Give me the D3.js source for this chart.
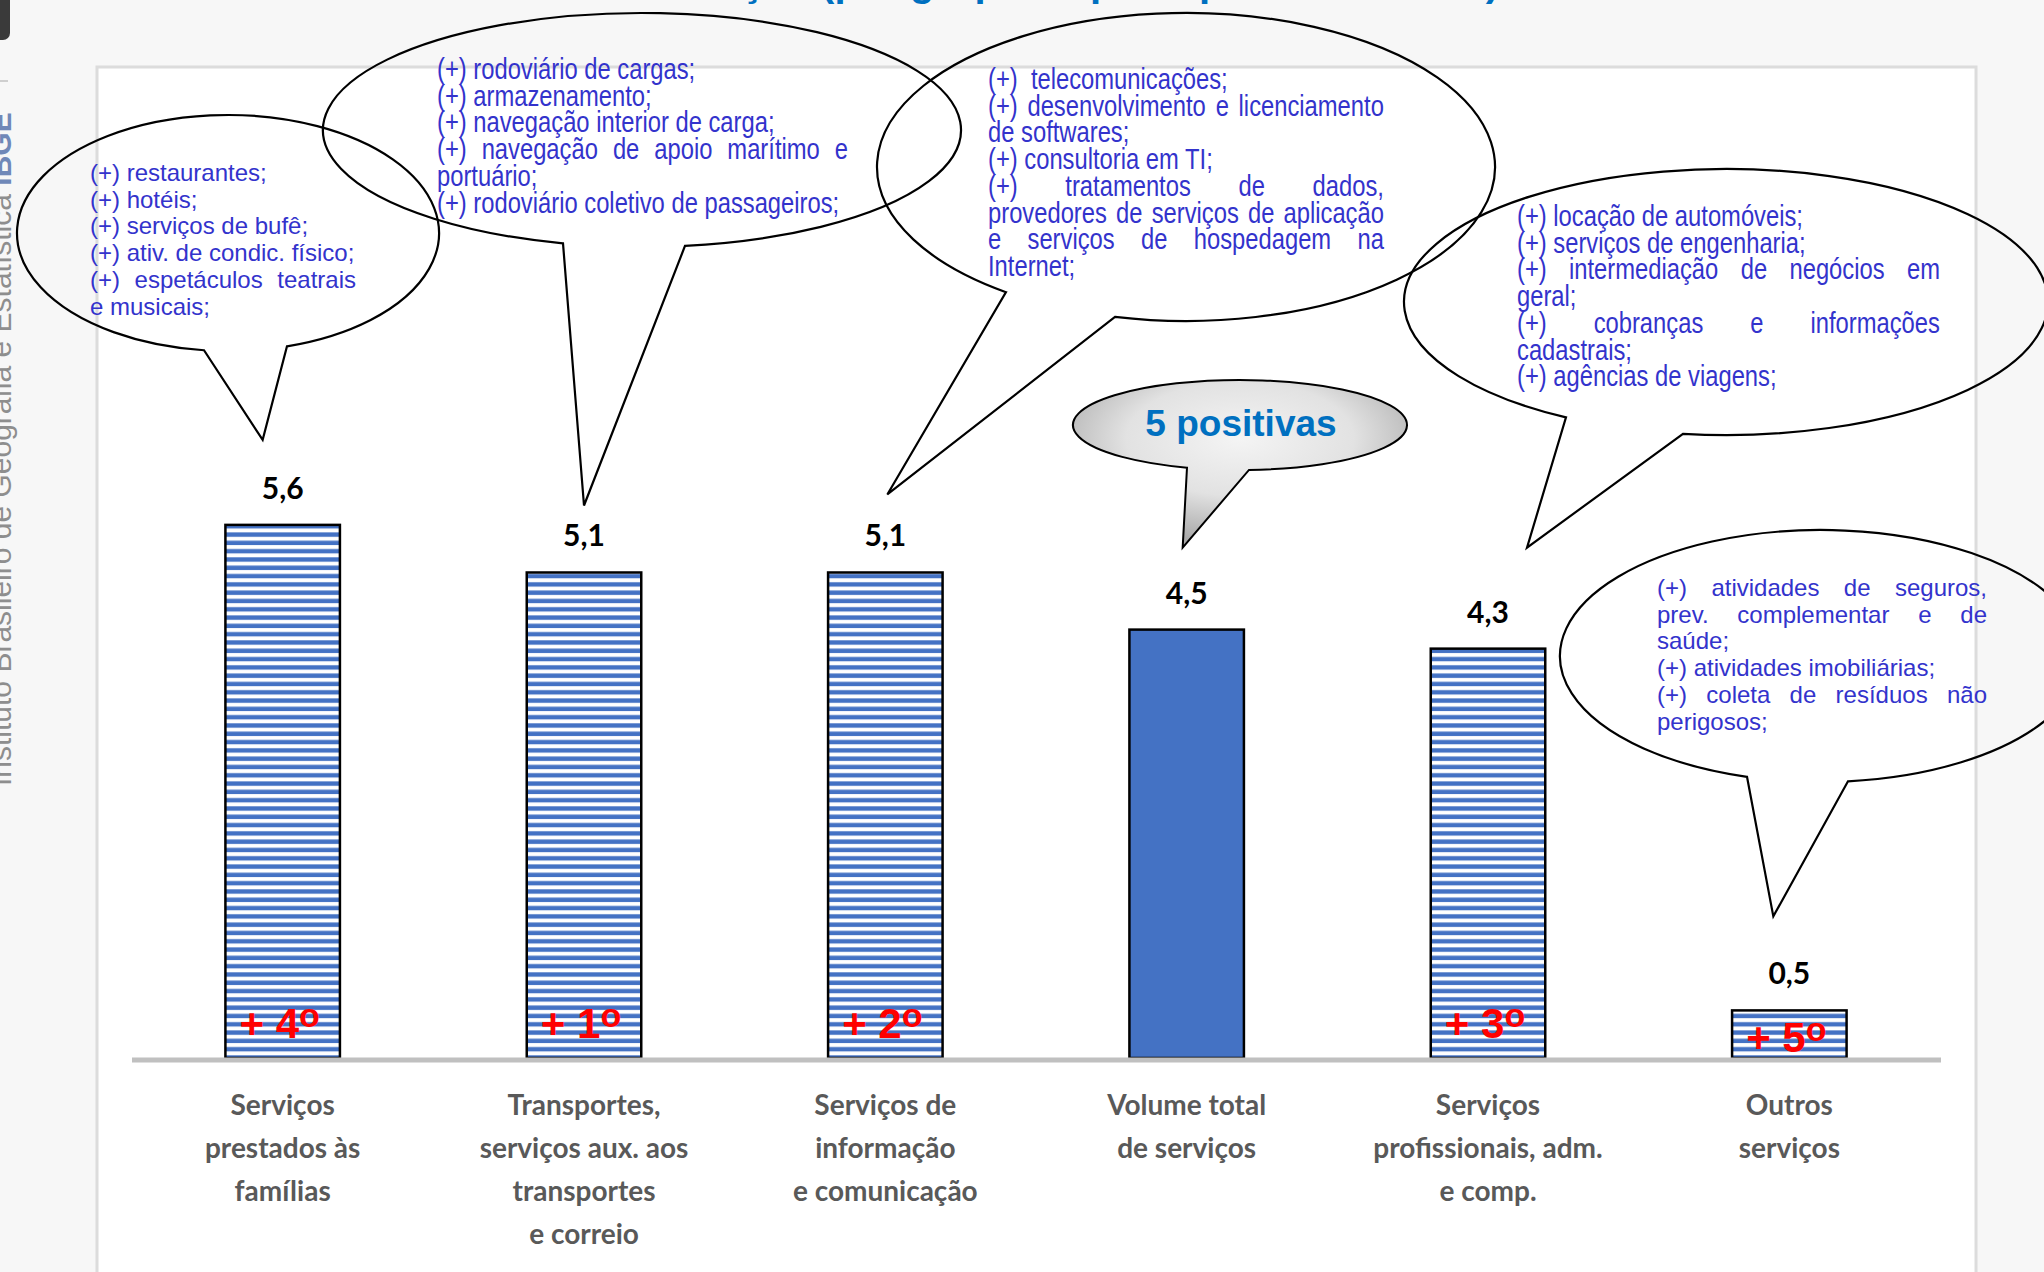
<!DOCTYPE html>
<html>
<head>
<meta charset="utf-8">
<script src="https://cdn.jsdelivr.net/npm/d3@7"></script>
<style>
  body { margin: 0; background: #f7f7f7; }
  svg { display: block; }
</style>
</head>
<body>
<svg id="chart" width="2044" height="1272"></svg>
<script>
// ---- data ----
const categories = [
  ["Serviços", "prestados às", "famílias"],
  ["Transportes,", "serviços aux. aos", "transportes", "e correio"],
  ["Serviços de", "informação", "e comunicação"],
  ["Volume total", "de serviços"],
  ["Serviços", "profissionais, adm.", "e comp."],
  ["Outros", "serviços"]
];
const values = [5.6, 5.1, 5.1, 4.5, 4.3, 0.5];
const valueLabels = ["5,6", "5,1", "5,1", "4,5", "4,3", "0,5"];
const ranks = ["4", "1", "2", null, "3", "5"];
const isTotal = [false, false, false, true, false, false];

// bubble texts: [line, justified]
const familiasLines = [
  ["(+) restaurantes;", 0],
  ["(+) hotéis;", 0],
  ["(+) serviços de bufê;", 0],
  ["(+) ativ. de condic. físico;", 0],
  ["(+) espetáculos teatrais", 1],
  ["e musicais;", 0]
];
const transportesLines = [
  ["(+) rodoviário de cargas;", 0],
  ["(+) armazenamento;", 0],
  ["(+) navegação interior de carga;", 0],
  ["(+) navegação de apoio marítimo e", 1],
  ["portuário;", 0],
  ["(+) rodoviário coletivo de passageiros;", 0]
];
const informacaoLines = [
  ["(+)  telecomunicações;", 0],
  ["(+)  desenvolvimento e licenciamento", 1],
  ["de softwares;", 0],
  ["(+) consultoria em TI;", 0],
  ["(+) tratamentos de dados,", 1],
  ["provedores de serviços de aplicação", 1],
  ["e serviços de hospedagem na", 1],
  ["Internet;", 0]
];
const profissionaisLines = [
  ["(+) locação de automóveis;", 0],
  ["(+) serviços de engenharia;", 0],
  ["(+) intermediação de negócios em", 1],
  ["geral;", 0],
  ["(+) cobranças e informações", 1],
  ["cadastrais;", 0],
  ["(+) agências de viagens;", 0]
];
const outrosLines = [
  ["(+) atividades de seguros,", 1],
  ["prev. complementar e de", 1],
  ["saúde;", 0],
  ["(+) atividades imobiliárias;", 0],
  ["(+) coleta de resíduos não", 1],
  ["perigosos;", 0]
];
const positivasText = "5 positivas";
const titleHead = "Volume de serviços ";
const titleTail = "(por grupos e principais atividades)";
const sideText = "Instituto Brasileiro de Geografia e Estatística";

// ---- layout ----
const svg = d3.select("#chart");
const W = 2044, H = 1272;
const baseY = 1058;
const REG = "Liberation Sans, Arial, sans-serif";

const x = d3.scaleBand()
  .domain(d3.range(values.length))
  .range([132, 1940])
  .paddingInner(0.62)
  .paddingOuter(0.31);

const y = d3.scaleLinear().domain([0, 6]).range([baseY, baseY - 6 * 95.2]);

const defs = svg.append("defs");

// stripes for the bars
const pat = defs.append("pattern")
  .attr("id", "stripes")
  .attr("patternUnits", "userSpaceOnUse")
  .attr("width", 20)
  .attr("height", 8.3);
pat.append("rect").attr("width", 20).attr("height", 8.3).attr("fill", "#fff");
pat.append("rect").attr("y", 1.2).attr("width", 20).attr("height", 4.4).attr("fill", "#4472c4");

const grad = defs.append("radialGradient")
  .attr("id", "grayBubble")
  .attr("cx", "50%").attr("cy", "35%").attr("r", "62%");
grad.append("stop").attr("offset", "0%").attr("stop-color", "#f4f4f4");
grad.append("stop").attr("offset", "55%").attr("stop-color", "#e2e2e2");
grad.append("stop").attr("offset", "100%").attr("stop-color", "#a9a9a9");

const measure = svg.append("text").attr("visibility", "hidden");
function textW(str, font, size, weight) {
  measure.attr("font-family", font).attr("font-size", size)
    .attr("font-weight", weight || "normal").text(str);
  return measure.node().getComputedTextLength();
}

// page background + panel
svg.append("rect").attr("width", W).attr("height", H).attr("fill", "#f7f7f7");
svg.append("rect")
  .attr("x", 97).attr("y", 67)
  .attr("width", 1879).attr("height", 1300)
  .attr("fill", "#fff")
  .attr("stroke", "#dcdcdc")
  .attr("stroke-width", 3);

// cut title at the top (only descenders show)
const headW = textW(titleHead, REG, 40, "bold");
svg.append("text")
  .attr("x", 810 - headW).attr("y", -4)
  .attr("font-family", REG)
  .attr("font-weight", "bold")
  .attr("font-size", 40)
  .attr("fill", "#0070c0")
  .attr("xml:space", "preserve")
  .text(titleHead + titleTail);

// left side strip: icon + vertical institute name
svg.append("rect").attr("x", -12).attr("y", -10).attr("width", 22).attr("height", 50).attr("rx", 7).attr("fill", "#3a3a3a");
svg.append("line").attr("x1", 0).attr("x2", 8).attr("y1", 81).attr("y2", 81).attr("stroke", "#cfcfcf").attr("stroke-width", 2);
const side = svg.append("text")
  .attr("transform", "translate(11,786) rotate(-90)")
  .attr("font-family", REG)
  .attr("font-size", 30)
  .attr("fill", "#8e8e8e");
side.append("tspan").text(sideText + " ");
side.append("tspan").attr("font-weight", "bold").attr("fill", "#7088b8").text("IBGE");

// ---- bars ----
const bars = svg.append("g");
bars.selectAll("rect")
  .data(values)
  .join("rect")
  .attr("x", (d, i) => x(i))
  .attr("y", d => y(d))
  .attr("width", x.bandwidth())
  .attr("height", d => y(0) - y(d))
  .attr("fill", (d, i) => isTotal[i] ? "#4472c4" : "url(#stripes)")
  .attr("stroke", "#000")
  .attr("stroke-width", 2.5);

// axis line
svg.append("line")
  .attr("x1", 132).attr("x2", 1941)
  .attr("y1", baseY + 2).attr("y2", baseY + 2)
  .attr("stroke", "#c0c0c0")
  .attr("stroke-width", 5);

// value labels
svg.append("g").selectAll("text")
  .data(values)
  .join("text")
  .attr("x", (d, i) => x(i) + x.bandwidth() / 2)
  .attr("y", d => y(d) - 26)
  .attr("text-anchor", "middle")
  .attr("font-family", "Lato, sans-serif")
  .attr("font-weight", "bold")
  .attr("font-size", 30)
  .attr("fill", "#000")
  .text((d, i) => valueLabels[i]);

// ranking labels
const rankG = svg.append("g");
ranks.forEach((r, i) => {
  if (!r) return;
  const short = y(0) - y(values[i]) < 80;
  const t = rankG.append("text")
    .attr("x", x(i) + x.bandwidth() / 2 - 3)
    .attr("y", short ? baseY - 6 : baseY - 20)
    .attr("text-anchor", "middle")
    .attr("font-family", REG)
    .attr("font-weight", "bold")
    .attr("font-size", 42)
    .attr("fill", "#ff0000");
  t.append("tspan").text("+ " + r);
  t.append("tspan").attr("font-size", 34).attr("dy", -11).text("o");
});

// category labels
const catG = svg.append("g");
categories.forEach((lines, i) => {
  lines.forEach((ln, k) => {
    catG.append("text")
      .attr("x", x(i) + x.bandwidth() / 2)
      .attr("y", 1115 + k * 43)
      .attr("text-anchor", "middle")
      .attr("font-family", "Lato, sans-serif")
      .attr("font-weight", "bold")
      .attr("font-size", 28)
      .attr("fill", "#595959")
      .text(ln);
  });
});

// ---- speech bubbles ----
// narrow bubbles: Arial-Narrow look by squeezing a taller Arial horizontally
const bubbleLayout = [
  { lines: familiasLines, bar: 0, cx: 228, cy: 233, rx: 211, ry: 118, b1: 204, b2: 287, dx: -20, up: 85,
    tx: 90, ty: 181, tw: 266, size: 24, sx: 1 },
  { lines: transportesLines, bar: 1, cx: 642, cy: 130, rx: 319, ry: 117, b1: 563, b2: 685, dx: 0, up: 67,
    tx: 437, ty: 79, tw: 411, size: 29, sx: 0.82 },
  { lines: informacaoLines, bar: 2, cx: 1186, cy: 167, rx: 309, ry: 154, b1: 1006, b2: 1115, dx: 2, up: 78,
    tx: 988, ty: 89, tw: 396, size: 29, sx: 0.82 },
  { lines: profissionaisLines, bar: 4, cx: 1726, cy: 302, rx: 322, ry: 133, b1: 1566, b2: 1683, dx: 39, up: 101,
    tx: 1517, ty: 226, tw: 423, size: 29, sx: 0.82 },
  { lines: outrosLines, bar: 5, cx: 1821, cy: 656, rx: 261, ry: 126, b1: 1747, b2: 1848, dx: -16, up: 94,
    tx: 1657, ty: 596, tw: 330, size: 24, sx: 1 }
];
const lineH = 26.7;

function bubblePath(b, tipX, tipY) {
  const yAt = xx => b.cy + b.ry * Math.sqrt(Math.max(0, 1 - ((xx - b.cx) / b.rx) ** 2));
  return `M${b.b1},${yAt(b.b1)} A${b.rx},${b.ry} 0 1 1 ${b.b2},${yAt(b.b2)} L${tipX},${tipY} Z`;
}

const bubbleG = svg.append("g");
bubbleLayout.forEach(b => {
  const tipX = x(b.bar) + x.bandwidth() / 2 + b.dx;
  const tipY = y(values[b.bar]) - b.up;
  bubbleG.append("path")
    .attr("d", bubblePath(b, tipX, tipY))
    .attr("fill", "none")
    .attr("stroke", "#000")
    .attr("stroke-width", 2.2);

  const innerW = b.tw / b.sx;
  b.lines.forEach(([t, j], k) => {
    const g = bubbleG.append("g")
      .attr("transform", `translate(${b.tx},${b.ty + k * lineH}) scale(${b.sx},1)`)
      .attr("font-family", REG)
      .attr("font-size", b.size)
      .attr("fill", "#3333cc");
    if (!j) {
      g.append("text").attr("xml:space", "preserve").text(t);
    } else {
      const words = t.split(/\s+/);
      const ws = words.map(w => textW(w, REG, b.size));
      const gap = (innerW - d3.sum(ws)) / (words.length - 1);
      let xx = 0;
      words.forEach((w, m) => {
        g.append("text").attr("x", xx).text(w);
        xx += ws[m] + gap;
      });
    }
  });
});

// "5 positivas" bubble on the total bar
const pb = { cx: 1240, cy: 425, rx: 167, ry: 45, b1: 1187, b2: 1249 };
const totalIdx = isTotal.indexOf(true);
bubbleG.append("path")
  .attr("d", bubblePath(pb, x(totalIdx) + x.bandwidth() / 2 - 4, y(values[totalIdx]) - 82))
  .attr("fill", "url(#grayBubble)")
  .attr("stroke", "#000")
  .attr("stroke-width", 2);
bubbleG.append("text")
  .attr("x", pb.cx + 1).attr("y", pb.cy + 11)
  .attr("text-anchor", "middle")
  .attr("font-family", REG)
  .attr("font-weight", "bold")
  .attr("font-size", 37)
  .attr("fill", "#0070c0")
  .text(positivasText);

measure.remove();
</script>
</body>
</html>
